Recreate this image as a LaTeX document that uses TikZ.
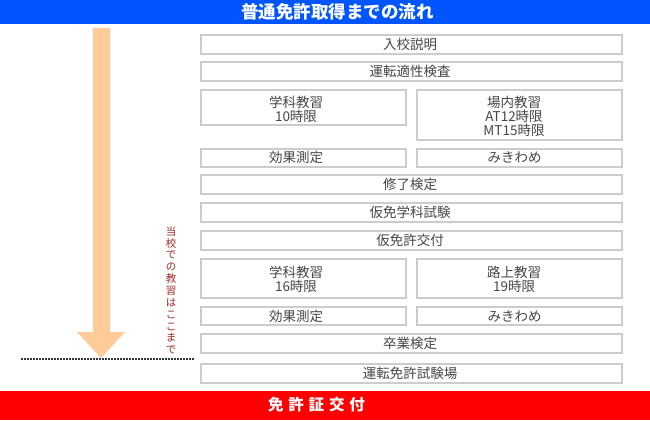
\documentclass[tikz,border=0pt]{standalone}
\usepackage{fontspec}
\setmainfont{Noto Sans CJK JP}
\definecolor{bannerblue}{RGB}{0,85,255}
\definecolor{bannerred}{RGB}{255,0,0}
\definecolor{boxgray}{RGB}{204,204,204}
\definecolor{textgray}{RGB}{70,70,70}
\definecolor{peach}{RGB}{255,204,153}
\definecolor{vred}{RGB}{160,40,40}
\definecolor{dashgray}{RGB}{55,55,55}
\begin{document}
\begin{tikzpicture}[x=1pt,y=-1pt,
  banner/.style={draw=none,inner sep=0pt,minimum width=650pt},
  bannertext/.style={text=white,inner sep=0pt,font=\fontsize{17.5}{18}\selectfont\bfseries},
  stepbox/.style={draw=boxgray,line width=2pt,fill=white,inner sep=0pt},
  fullbox/.style={stepbox,minimum width=421pt},
  halfbox/.style={stepbox,minimum width=205.3pt},
  lbl/.style={text=textgray,inner sep=0pt,align=center,font=\fontsize{13.5}{14}\selectfont},
  vtext/.style={text=vred,inner sep=0pt,align=center,font=\fontsize{10.5}{11.87}\selectfont},
  dashline/.style={draw=dashgray,line width=2pt,dash pattern=on 2pt off 1pt}]
\useasboundingbox (0,0) rectangle (650,420);
\fill[white] (0,0) rectangle (650,420);
% banners
\node[banner,fill=bannerblue,minimum height=24.3pt] (topbar) at (325,12.15) {};
\node[bannertext] (title) at (337.5,12) {普通免許取得までの流れ};
\node[banner,fill=bannerred,minimum height=29pt] (botbar) at (325,405.5) {};
\node[bannertext,font=\fontsize{15.5}{16}\selectfont\bfseries] (final) at (316.5,404.5) {免\hspace{4.8pt}許\hspace{4.8pt}証\hspace{4.8pt}交\hspace{4.8pt}付};
% arrow
\coordinate (atop) at (101.5,28);
\coordinate (atip) at (101,358);
\fill[peach] (93,28) -- (110,28) -- (110,332) -- (125,332) -- (atip) -- (77,332) -- (93,332) -- cycle;
% dashed line
\coordinate (dl) at (21,359);
\coordinate (dr) at (194,359);
\draw[dashline] (dl) -- (dr);
% vertical text
\node[vtext] (vt) at (171,290.3) {当\\校\\で\\の\\教\\習\\は\\こ\\こ\\ま\\で};
% boxes
\node[fullbox,minimum height=19pt] (b1) at (411.5,44.8) {};
\node[lbl] (t1) at (410,44.8) {入校説明};
\node[fullbox,minimum height=19pt] (b2) at (411.5,71.8) {};
\node[lbl] (t2) at (410,71.8) {運転適性検査};
\node[halfbox,minimum height=35pt] (b3l) at (303.6,107.8) {};
\node[lbl] (t3l) at (296,109.2) {学科教習\\10時限};
\node[halfbox,minimum height=49.4pt] (b3r) at (519.5,115) {};
\node[lbl] (t3r) at (514,116.2) {場内教習\\AT12時限\\MT15時限};
\node[halfbox,minimum height=18pt] (b4l) at (303.6,157.7) {};
\node[lbl] (t4l) at (296,157.7) {効果測定};
\node[halfbox,minimum height=18pt] (b4r) at (519.5,157.7) {};
\node[lbl] (t4r) at (514.5,157.7) {みきわめ};
\node[fullbox,minimum height=19pt] (b5) at (411.5,184.8) {};
\node[lbl] (t5) at (410,184.8) {修了検定};
\node[fullbox,minimum height=19pt] (b6) at (411.5,212.8) {};
\node[lbl] (t6) at (410,212.8) {仮免学科試験};
\node[fullbox,minimum height=19pt] (b7) at (411.5,240.8) {};
\node[lbl] (t7) at (410,240.8) {仮免許交付};
\node[halfbox,minimum height=39pt] (b8l) at (303.6,278.8) {};
\node[lbl] (t8l) at (296,279.5) {学科教習\\16時限};
\node[halfbox,minimum height=39pt] (b8r) at (519.5,278.8) {};
\node[lbl] (t8r) at (514,279.5) {路上教習\\19時限};
\node[halfbox,minimum height=18pt] (b9l) at (303.6,316.3) {};
\node[lbl] (t9l) at (296,316.3) {効果測定};
\node[halfbox,minimum height=18pt] (b9r) at (519.5,316.3) {};
\node[lbl] (t9r) at (514.5,316.3) {みきわめ};
\node[fullbox,minimum height=18.7pt] (b10) at (411.5,343.7) {};
\node[lbl] (t10) at (410,343.7) {卒業検定};
\node[fullbox,minimum height=19pt] (b11) at (411.5,373.8) {};
\node[lbl] (t11) at (410,373.8) {運転免許試験場};
\end{tikzpicture}
\end{document}
